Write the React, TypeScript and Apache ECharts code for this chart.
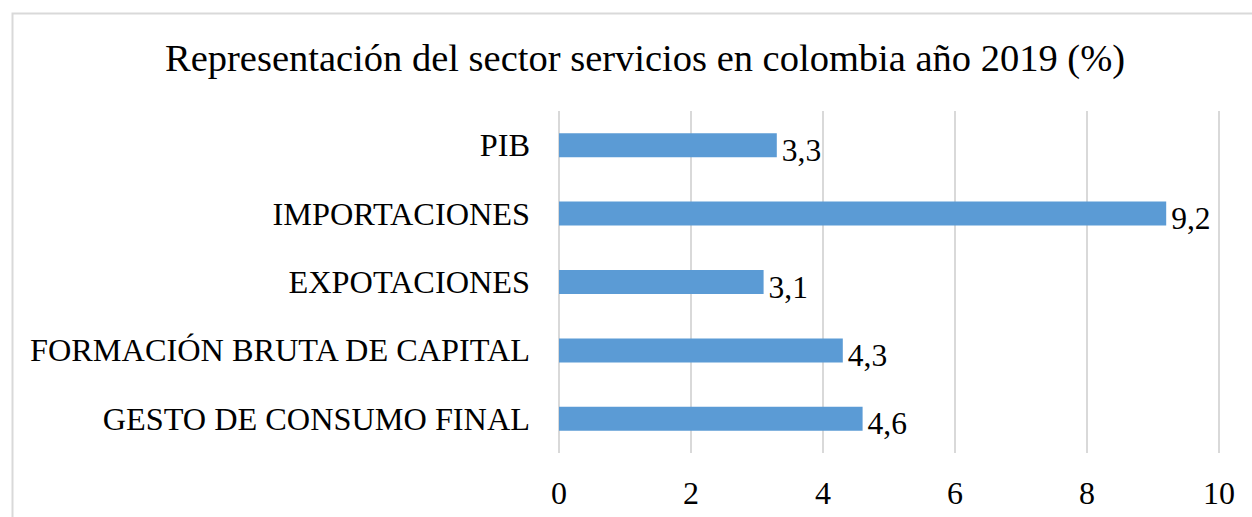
import React, { useEffect, useRef } from "react";
import * as echarts from "echarts";

const categories = [
  "PIB",
  "IMPORTACIONES",
  "EXPOTACIONES",
  "FORMACIÓN BRUTA DE CAPITAL",
  "GESTO DE CONSUMO FINAL",
];
const values = [3.3, 9.2, 3.1, 4.3, 4.6];
const xTicks = [0, 2, 4, 6, 8, 10];
const titleText = "Representación del sector servicios en colombia año 2019 (%)";

const FONT = "'Liberation Serif', 'Times New Roman', serif";

export default function App() {
  const ref = useRef<HTMLDivElement>(null);
  useEffect(() => {
    if (!ref.current) return;
    const chart = echarts.init(ref.current, null, { renderer: "svg" });
    chart.setOption({
      animation: false,
      backgroundColor: "#ffffff",
      title: {
        text: titleText,
        left: 160,
        top: 33,
        textStyle: { fontFamily: FONT, fontSize: 38.5, fontWeight: "normal", color: "#000" },
      },
      graphic: [
        {
          type: "rect",
          shape: { x: 12.5, y: 13.5, width: 1300, height: 600 },
          style: { fill: "none", stroke: "#d9d9d9", lineWidth: 2 },
          z: -10,
        },
      ],
      grid: { left: 559, right: 33, top: 111, bottom: 64, containLabel: false },
      xAxis: {
        type: "value",
        min: xTicks[0],
        max: xTicks[xTicks.length - 1],
        interval: 2,
        axisLine: { show: false },
        axisTick: { show: false },
        axisLabel: { fontFamily: FONT, fontSize: 32, color: "#000", margin: 24 },
        splitLine: { show: true, lineStyle: { color: "#d9d9d9", width: 2 } },
      },
      yAxis: {
        type: "category",
        data: categories,
        inverse: true,
        axisLine: { show: false },
        axisTick: { show: false },
        axisLabel: { fontFamily: FONT, fontSize: 32.3, color: "#000", margin: 29 },
      },
      series: [
        {
          type: "bar",
          data: values,
          barWidth: 24,
          itemStyle: { color: "#5b9bd5" },
          label: {
            show: true,
            position: "right",
            distance: 5,
            offset: [0, 5],
            fontFamily: FONT,
            fontSize: 31.5,
            color: "#000",
            formatter: (p: any) => String(p.value).replace(".", ","),
          },
        },
      ],
    });
    return () => chart.dispose();
  }, []);
  return (
    <div
      ref={ref}
      style={{ position: "fixed", left: 0, top: 0, width: 1252, height: 517 }}
    />
  );
}
